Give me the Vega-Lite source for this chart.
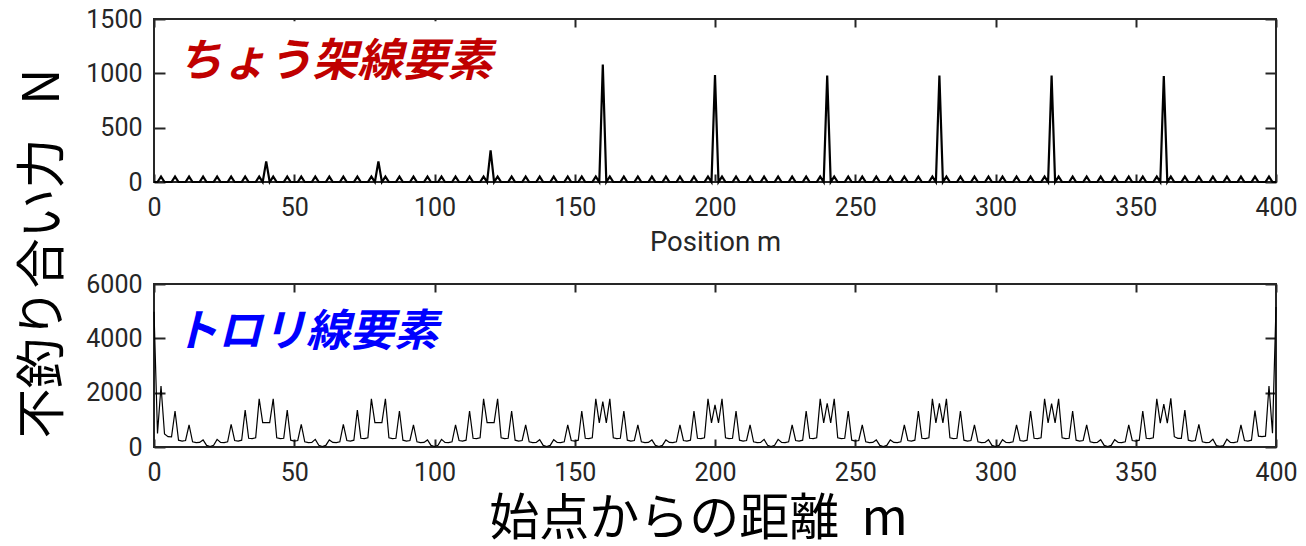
{
"$schema": "https://vega.github.io/schema/vega-lite/v6.json",
"background": "white",
"padding": {"left": 18, "top": 6, "right": 8, "bottom": 0},
"title": {"text": "不釣り合い力\u00a0\u00a0\u00a0N", "orient": "left", "anchor": "middle", "font": "Noto Sans CJK JP", "fontSize": 50, "fontWeight": "normal", "color": "black", "offset": 16, "dx": 22},
"spacing": 14,
"datasets": {"d": [
{"x":0,"t":0,"b":4980},{"x":1.25,"t":0,"b":500},{"x":2.5,"t":50,"b":2245},{"x":3.75,"t":0,"b":480},{"x":5,"t":0,"b":380},{"x":6.25,"t":0,"b":370},{"x":7.5,"t":50,"b":1325},{"x":8.75,"t":0,"b":250},{"x":10,"t":0,"b":220},{"x":11.25,"t":0,"b":240},{"x":12.5,"t":50,"b":810},{"x":13.75,"t":0,"b":190},{"x":15,"t":0,"b":160},{"x":16.25,"t":0,"b":170},{"x":17.5,"t":50,"b":260},{"x":18.75,"t":0,"b":60},{"x":20,"t":0,"b":20},{"x":21.25,"t":0,"b":60},{"x":22.5,"t":50,"b":280},{"x":23.75,"t":0,"b":170},{"x":25,"t":0,"b":160},{"x":26.25,"t":0,"b":190},{"x":27.5,"t":50,"b":835},{"x":28.75,"t":0,"b":240},{"x":30,"t":0,"b":220},{"x":31.25,"t":0,"b":250},{"x":32.5,"t":50,"b":1360},{"x":33.75,"t":0,"b":320},{"x":35,"t":0,"b":310},{"x":36.25,"t":0,"b":340},{"x":37.5,"t":50,"b":1770},{"x":38.75,"t":0,"b":900},
{"x":40,"t":190,"b":900},{"x":41.25,"t":0,"b":900},{"x":42.5,"t":50,"b":1770},{"x":43.75,"t":0,"b":340},{"x":45,"t":0,"b":310},{"x":46.25,"t":0,"b":320},{"x":47.5,"t":50,"b":1360},{"x":48.75,"t":0,"b":250},{"x":50,"t":0,"b":220},{"x":51.25,"t":0,"b":240},{"x":52.5,"t":50,"b":835},{"x":53.75,"t":0,"b":190},{"x":55,"t":0,"b":160},{"x":56.25,"t":0,"b":170},{"x":57.5,"t":50,"b":280},{"x":58.75,"t":0,"b":60},{"x":60,"t":0,"b":20},{"x":61.25,"t":0,"b":60},{"x":62.5,"t":50,"b":260},{"x":63.75,"t":0,"b":170},{"x":65,"t":0,"b":160},{"x":66.25,"t":0,"b":190},{"x":67.5,"t":50,"b":835},{"x":68.75,"t":0,"b":240},{"x":70,"t":0,"b":220},{"x":71.25,"t":0,"b":250},{"x":72.5,"t":50,"b":1360},{"x":73.75,"t":0,"b":320},{"x":75,"t":0,"b":310},{"x":76.25,"t":0,"b":340},{"x":77.5,"t":50,"b":1770},{"x":78.75,"t":0,"b":900},
{"x":80,"t":190,"b":900},{"x":81.25,"t":0,"b":900},{"x":82.5,"t":50,"b":1770},{"x":83.75,"t":0,"b":340},{"x":85,"t":0,"b":310},{"x":86.25,"t":0,"b":320},{"x":87.5,"t":50,"b":1325},{"x":88.75,"t":0,"b":250},{"x":90,"t":0,"b":220},{"x":91.25,"t":0,"b":240},{"x":92.5,"t":50,"b":810},{"x":93.75,"t":0,"b":190},{"x":95,"t":0,"b":160},{"x":96.25,"t":0,"b":170},{"x":97.5,"t":50,"b":260},{"x":98.75,"t":0,"b":60},{"x":100,"t":0,"b":20},{"x":101.25,"t":0,"b":60},{"x":102.5,"t":50,"b":280},{"x":103.75,"t":0,"b":170},{"x":105,"t":0,"b":160},{"x":106.25,"t":0,"b":190},{"x":107.5,"t":50,"b":810},{"x":108.75,"t":0,"b":240},{"x":110,"t":0,"b":220},{"x":111.25,"t":0,"b":250},{"x":112.5,"t":50,"b":1325},{"x":113.75,"t":0,"b":320},{"x":115,"t":0,"b":310},{"x":116.25,"t":0,"b":340},{"x":117.5,"t":50,"b":1770},{"x":118.75,"t":0,"b":900},
{"x":120,"t":290,"b":900},{"x":121.25,"t":0,"b":900},{"x":122.5,"t":50,"b":1770},{"x":123.75,"t":0,"b":340},{"x":125,"t":0,"b":310},{"x":126.25,"t":0,"b":320},{"x":127.5,"t":50,"b":1325},{"x":128.75,"t":0,"b":250},{"x":130,"t":0,"b":220},{"x":131.25,"t":0,"b":240},{"x":132.5,"t":50,"b":810},{"x":133.75,"t":0,"b":190},{"x":135,"t":0,"b":160},{"x":136.25,"t":0,"b":170},{"x":137.5,"t":50,"b":270},{"x":138.75,"t":0,"b":60},{"x":140,"t":0,"b":20},{"x":141.25,"t":0,"b":60},{"x":142.5,"t":50,"b":270},{"x":143.75,"t":0,"b":170},{"x":145,"t":0,"b":160},{"x":146.25,"t":0,"b":190},{"x":147.5,"t":50,"b":810},{"x":148.75,"t":0,"b":240},{"x":150,"t":0,"b":220},{"x":151.25,"t":0,"b":250},{"x":152.5,"t":50,"b":1325},{"x":153.75,"t":0,"b":320},{"x":155,"t":0,"b":310},{"x":156.25,"t":0,"b":340},{"x":157.5,"t":50,"b":1770},{"x":158.75,"t":0,"b":890},
{"x":160,"t":1080,"b":1670},{"x":161.25,"t":0,"b":890},{"x":162.5,"t":50,"b":1770},{"x":163.75,"t":0,"b":340},{"x":165,"t":0,"b":310},{"x":166.25,"t":0,"b":320},{"x":167.5,"t":50,"b":1325},{"x":168.75,"t":0,"b":250},{"x":170,"t":0,"b":220},{"x":171.25,"t":0,"b":240},{"x":172.5,"t":50,"b":810},{"x":173.75,"t":0,"b":190},{"x":175,"t":0,"b":160},{"x":176.25,"t":0,"b":170},{"x":177.5,"t":50,"b":260},{"x":178.75,"t":0,"b":60},{"x":180,"t":0,"b":20},{"x":181.25,"t":0,"b":60},{"x":182.5,"t":50,"b":260},{"x":183.75,"t":0,"b":170},{"x":185,"t":0,"b":160},{"x":186.25,"t":0,"b":190},{"x":187.5,"t":50,"b":810},{"x":188.75,"t":0,"b":240},{"x":190,"t":0,"b":220},{"x":191.25,"t":0,"b":250},{"x":192.5,"t":50,"b":1325},{"x":193.75,"t":0,"b":320},{"x":195,"t":0,"b":310},{"x":196.25,"t":0,"b":340},{"x":197.5,"t":50,"b":1770},{"x":198.75,"t":0,"b":890},
{"x":200,"t":985,"b":1550},{"x":201.25,"t":0,"b":890},{"x":202.5,"t":50,"b":1770},{"x":203.75,"t":0,"b":340},{"x":205,"t":0,"b":310},{"x":206.25,"t":0,"b":320},{"x":207.5,"t":50,"b":1325},{"x":208.75,"t":0,"b":250},{"x":210,"t":0,"b":220},{"x":211.25,"t":0,"b":240},{"x":212.5,"t":50,"b":810},{"x":213.75,"t":0,"b":190},{"x":215,"t":0,"b":160},{"x":216.25,"t":0,"b":170},{"x":217.5,"t":50,"b":280},{"x":218.75,"t":0,"b":60},{"x":220,"t":0,"b":20},{"x":221.25,"t":0,"b":60},{"x":222.5,"t":50,"b":280},{"x":223.75,"t":0,"b":170},{"x":225,"t":0,"b":160},{"x":226.25,"t":0,"b":190},{"x":227.5,"t":50,"b":810},{"x":228.75,"t":0,"b":240},{"x":230,"t":0,"b":220},{"x":231.25,"t":0,"b":250},{"x":232.5,"t":50,"b":1325},{"x":233.75,"t":0,"b":320},{"x":235,"t":0,"b":310},{"x":236.25,"t":0,"b":340},{"x":237.5,"t":50,"b":1770},{"x":238.75,"t":0,"b":890},
{"x":240,"t":980,"b":1610},{"x":241.25,"t":0,"b":890},{"x":242.5,"t":50,"b":1770},{"x":243.75,"t":0,"b":340},{"x":245,"t":0,"b":310},{"x":246.25,"t":0,"b":320},{"x":247.5,"t":50,"b":1325},{"x":248.75,"t":0,"b":250},{"x":250,"t":0,"b":220},{"x":251.25,"t":0,"b":240},{"x":252.5,"t":50,"b":810},{"x":253.75,"t":0,"b":190},{"x":255,"t":0,"b":160},{"x":256.25,"t":0,"b":170},{"x":257.5,"t":50,"b":260},{"x":258.75,"t":0,"b":60},{"x":260,"t":0,"b":20},{"x":261.25,"t":0,"b":60},{"x":262.5,"t":50,"b":260},{"x":263.75,"t":0,"b":170},{"x":265,"t":0,"b":160},{"x":266.25,"t":0,"b":190},{"x":267.5,"t":50,"b":810},{"x":268.75,"t":0,"b":240},{"x":270,"t":0,"b":220},{"x":271.25,"t":0,"b":250},{"x":272.5,"t":50,"b":1325},{"x":273.75,"t":0,"b":320},{"x":275,"t":0,"b":310},{"x":276.25,"t":0,"b":340},{"x":277.5,"t":50,"b":1770},{"x":278.75,"t":0,"b":890},
{"x":280,"t":980,"b":1610},{"x":281.25,"t":0,"b":890},{"x":282.5,"t":50,"b":1770},{"x":283.75,"t":0,"b":340},{"x":285,"t":0,"b":310},{"x":286.25,"t":0,"b":320},{"x":287.5,"t":50,"b":1325},{"x":288.75,"t":0,"b":250},{"x":290,"t":0,"b":220},{"x":291.25,"t":0,"b":240},{"x":292.5,"t":50,"b":810},{"x":293.75,"t":0,"b":190},{"x":295,"t":0,"b":160},{"x":296.25,"t":0,"b":170},{"x":297.5,"t":50,"b":270},{"x":298.75,"t":0,"b":60},{"x":300,"t":0,"b":20},{"x":301.25,"t":0,"b":60},{"x":302.5,"t":50,"b":270},{"x":303.75,"t":0,"b":170},{"x":305,"t":0,"b":160},{"x":306.25,"t":0,"b":190},{"x":307.5,"t":50,"b":810},{"x":308.75,"t":0,"b":240},{"x":310,"t":0,"b":220},{"x":311.25,"t":0,"b":250},{"x":312.5,"t":50,"b":1325},{"x":313.75,"t":0,"b":320},{"x":315,"t":0,"b":310},{"x":316.25,"t":0,"b":340},{"x":317.5,"t":50,"b":1770},{"x":318.75,"t":0,"b":890},
{"x":320,"t":980,"b":1600},{"x":321.25,"t":0,"b":890},{"x":322.5,"t":50,"b":1770},{"x":323.75,"t":0,"b":340},{"x":325,"t":0,"b":310},{"x":326.25,"t":0,"b":320},{"x":327.5,"t":50,"b":1325},{"x":328.75,"t":0,"b":250},{"x":330,"t":0,"b":220},{"x":331.25,"t":0,"b":240},{"x":332.5,"t":50,"b":810},{"x":333.75,"t":0,"b":190},{"x":335,"t":0,"b":160},{"x":336.25,"t":0,"b":170},{"x":337.5,"t":50,"b":270},{"x":338.75,"t":0,"b":60},{"x":340,"t":0,"b":20},{"x":341.25,"t":0,"b":60},{"x":342.5,"t":50,"b":270},{"x":343.75,"t":0,"b":170},{"x":345,"t":0,"b":160},{"x":346.25,"t":0,"b":190},{"x":347.5,"t":50,"b":810},{"x":348.75,"t":0,"b":240},{"x":350,"t":0,"b":220},{"x":351.25,"t":0,"b":250},{"x":352.5,"t":50,"b":1325},{"x":353.75,"t":0,"b":320},{"x":355,"t":0,"b":310},{"x":356.25,"t":0,"b":340},{"x":357.5,"t":50,"b":1770},{"x":358.75,"t":0,"b":880},
{"x":360,"t":975,"b":1580},{"x":361.25,"t":0,"b":880},{"x":362.5,"t":50,"b":1790},{"x":363.75,"t":0,"b":380},{"x":365,"t":0,"b":320},{"x":366.25,"t":0,"b":320},{"x":367.5,"t":50,"b":1360},{"x":368.75,"t":0,"b":250},{"x":370,"t":0,"b":220},{"x":371.25,"t":0,"b":240},{"x":372.5,"t":50,"b":835},{"x":373.75,"t":0,"b":190},{"x":375,"t":0,"b":160},{"x":376.25,"t":0,"b":170},{"x":377.5,"t":50,"b":283},{"x":378.75,"t":0,"b":50},{"x":380,"t":0,"b":20},{"x":381.25,"t":0,"b":50},{"x":382.5,"t":50,"b":283},{"x":383.75,"t":0,"b":170},{"x":385,"t":0,"b":160},{"x":386.25,"t":0,"b":190},{"x":387.5,"t":50,"b":810},{"x":388.75,"t":0,"b":240},{"x":390,"t":0,"b":220},{"x":391.25,"t":0,"b":250},{"x":392.5,"t":50,"b":1338},{"x":393.75,"t":0,"b":400},{"x":395,"t":0,"b":380},{"x":396.25,"t":0,"b":400},{"x":397.5,"t":50,"b":2245},{"x":398.75,"t":0,"b":504},{"x":400,"t":0,"b":5150}
]},
"vconcat": [
{
"width": 1122, "height": 163,
"resolve": {"axis": {"x": "independent", "y": "independent"}},
"layer": [
{"data": {"values": [{}]}, "mark": {"type": "rect", "fill": "white"},
 "encoding": {"x": {"datum": 7, "type": "quantitative", "axis": null}, "x2": {"datum": 122}, "y": {"datum": 890, "type": "quantitative", "axis": null}, "y2": {"datum": 1480}}},
{"data": {"name": "d"}, "mark": {"type": "line", "color": "black", "strokeWidth": 2.2},
 "encoding": {
  "x": {"field": "x", "type": "quantitative", "scale": {"domain": [0, 400], "nice": false}, "axis": {"values": [0,50,100,150,200,250,300,350,400], "format": "d", "title": "Position m", "titleFontSize": 27.5, "tickSize": -8, "labelPadding": 21, "titlePadding": 8}},
  "y": {"field": "t", "type": "quantitative", "scale": {"domain": [0, 1500], "nice": false}, "axis": {"values": [0,500,1000,1500], "format": "d", "title": null, "tickSize": -11, "labelPadding": 23}}}},
{"data": {"values": [{}]}, "mark": {"type": "text", "text": "ちょう架線要素", "font": "Noto Sans CJK JP", "fontSize": 45, "fontWeight": "bold", "fontStyle": "italic", "color": "#c00000", "align": "left", "baseline": "middle"},
 "encoding": {"x": {"datum": 8.3, "type": "quantitative", "axis": null}, "y": {"datum": 1105, "type": "quantitative", "axis": null}}},
{"data": {"values": [{}]}, "mark": {"type": "point", "opacity": 0},
 "encoding": {"x": {"datum": 0, "type": "quantitative", "axis": {"orient": "top", "values": [0,50,100,150,200,250,300,350,400], "labels": false, "grid": false, "title": null, "tickSize": -8}},
  "y": {"datum": 0, "type": "quantitative", "axis": {"orient": "right", "values": [0,500,1000,1500], "labels": false, "grid": false, "title": null, "tickSize": -11}}}}
]
},
{
"width": 1122, "height": 163,
"resolve": {"axis": {"x": "independent", "y": "independent"}},
"layer": [
{"data": {"values": [{}]}, "mark": {"type": "rect", "fill": "white"},
 "encoding": {"x": {"datum": 6.4, "type": "quantitative", "axis": null}, "x2": {"datum": 104}, "y": {"datum": 3200, "type": "quantitative", "axis": null}, "y2": {"datum": 5560}}},
{"data": {"name": "d"}, "mark": {"type": "line", "color": "black", "strokeWidth": 1.2},
 "encoding": {
  "x": {"field": "x", "type": "quantitative", "scale": {"domain": [0, 400], "nice": false}, "axis": {"values": [0,50,100,150,200,250,300,350,400], "format": "d", "title": "始点からの距離\u00a0\u00a0m", "titleFont": "Noto Sans CJK JP", "titleFontSize": 50, "titleColor": "black", "titleX": 544, "tickSize": -8, "labelPadding": 21, "titlePadding": 9}},
  "y": {"field": "b", "type": "quantitative", "scale": {"domain": [0, 6000], "nice": false}, "axis": {"values": [0,2000,4000,6000], "format": "d", "title": null, "tickSize": -11, "labelPadding": 23}}}},
{"data": {"values": [{}]}, "mark": {"type": "text", "text": "トロリ線要素", "font": "Noto Sans CJK JP", "fontSize": 44, "fontWeight": "bold", "fontStyle": "italic", "color": "#0000ff", "align": "left", "baseline": "middle"},
 "encoding": {"x": {"datum": 7.1, "type": "quantitative", "axis": null}, "y": {"datum": 4200, "type": "quantitative", "axis": null}}},
{"data": {"values": [{}]}, "mark": {"type": "point", "opacity": 0},
 "encoding": {"x": {"datum": 0, "type": "quantitative", "axis": {"orient": "top", "values": [0,50,100,150,200,250,300,350,400], "labels": false, "grid": false, "title": null, "tickSize": -8}},
  "y": {"datum": 0, "type": "quantitative", "axis": {"orient": "right", "values": [0,2000,4000,6000], "labels": false, "grid": false, "title": null, "tickSize": -11}}}}
]
}
],
"config": {
 "view": {"stroke": "#262626", "strokeWidth": 2},
 "axis": {"domain": false, "gridColor": "#e0e0e0", "gridWidth": 1.5, "gridOpacity": 1, "tickColor": "#262626", "tickWidth": 2, "labelFont": "Roboto", "labelFontSize": 25, "labelColor": "#262626", "labelFlush": false, "titleFont": "Roboto", "titleFontWeight": "normal", "titleColor": "#262626"},
 "concat": {"spacing": 14}
}
}
